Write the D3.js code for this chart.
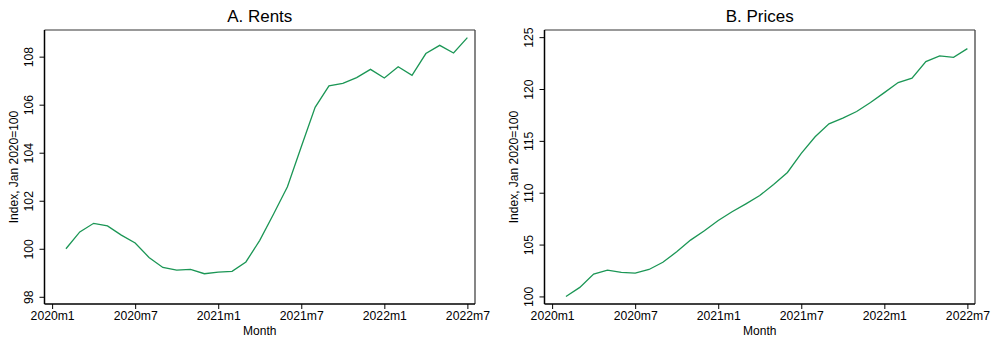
<!DOCTYPE html>
<html>
<head>
<meta charset="utf-8">
<script src="https://cdn.jsdelivr.net/npm/d3@7"></script>
<style>
  body { margin: 0; background: #fff; }
  svg text { font-family: "Liberation Sans", Arial, sans-serif; fill: #000; }
</style>
</head>
<body>
<svg id="chart" width="991" height="338"></svg>
<script>
// months plotted, 2020m2 .. 2022m7
const months = [
  "2020m2","2020m3","2020m4","2020m5","2020m6","2020m7","2020m8","2020m9","2020m10","2020m11","2020m12",
  "2021m1","2021m2","2021m3","2021m4","2021m5","2021m6","2021m7","2021m8","2021m9","2021m10","2021m11","2021m12",
  "2022m1","2022m2","2022m3","2022m4","2022m5","2022m6","2022m7"
];
const rents = [
  100.0, 100.7, 101.06, 100.95, 100.57, 100.24, 99.64, 99.22, 99.11, 99.14, 98.96,
  99.03, 99.06, 99.45, 100.35, 101.45, 102.58, 104.25, 105.89, 106.78, 106.89, 107.13, 107.47,
  107.11, 107.58, 107.22, 108.13, 108.47, 108.15, 108.79
];
const prices = [
  100.0, 100.87, 102.15, 102.54, 102.31, 102.25, 102.6, 103.3, 104.3, 105.43, 106.33,
  107.32, 108.16, 108.93, 109.73, 110.8, 111.95, 113.8, 115.4, 116.64, 117.19, 117.83, 118.7,
  119.65, 120.62, 121.04, 122.64, 123.19, 123.06, 123.89
];
const xTickLabels = ["2020m1", "2020m7", "2021m1", "2021m7", "2022m1", "2022m7"];
const rentTicks = [98, 100, 102, 104, 106, 108];
const priceTicks = [100, 105, 110, 115, 120, 125];

// month number counted from 2020m1 = 0
const monthIndex = m => {
  const [y, mm] = m.split("m").map(Number);
  return (y - 2020) * 12 + mm - 1;
};

const svg = d3.select("#chart");
const lineColor = "#1b9655";

function panel(opts) {
  const { left, right, top, bottom, title, values, yDomain, yTicks } = opts;
  const g = svg.append("g");

  const x = d3.scaleLinear().domain([-0.55, 30.55]).range([left, right]);
  const y = d3.scaleLinear().domain(yDomain).range([bottom, top]);

  // frame: top and right lighter
  g.append("line").attr("x1", left).attr("x2", right).attr("y1", top).attr("y2", top)
    .attr("stroke", "#777").attr("stroke-width", 1.3);
  g.append("line").attr("x1", right).attr("x2", right).attr("y1", top).attr("y2", bottom)
    .attr("stroke", "#444").attr("stroke-width", 1.3);

  // x axis
  const xAxis = d3.axisBottom(x)
    .tickValues(xTickLabels.map(monthIndex))
    .tickFormat((d, i) => xTickLabels[i])
    .tickSize(5).tickPadding(2).tickSizeOuter(0);
  const xg = g.append("g").attr("transform", `translate(0,${bottom})`).call(xAxis);
  xg.select(".domain").attr("stroke", "#000").attr("stroke-width", 1.5)
    .attr("d", `M${left},0H${right}`);
  xg.selectAll(".tick line").attr("stroke", "#000");
  xg.selectAll("text").style("font-size", "12.2px").attr("fill", "#000");

  // y axis, rotated labels
  const yAxis = d3.axisLeft(y).tickValues(yTicks).tickSize(5).tickPadding(3).tickSizeOuter(0);
  const yg = g.append("g").attr("transform", `translate(${left},0)`).call(yAxis);
  yg.select(".domain").attr("stroke", "#000").attr("stroke-width", 1.5)
    .attr("d", `M0,${top}V${bottom}`);
  yg.selectAll(".tick line").attr("stroke", "#000");
  yg.selectAll("text")
    .style("font-size", "12.2px").attr("fill", "#000")
    .attr("x", null).attr("dy", null)
    .attr("text-anchor", "middle")
    .attr("transform", "translate(-12,0) rotate(-90)");

  // title
  g.append("text")
    .attr("x", (left + right) / 2).attr("y", 22)
    .attr("text-anchor", "middle")
    .style("font-size", "17px")
    .text(title);

  // axis titles
  g.append("text")
    .attr("transform", `translate(${left - 27},${(top + bottom) / 2}) rotate(-90)`)
    .attr("text-anchor", "middle")
    .style("font-size", "12px")
    .text("Index, Jan 2020=100");
  g.append("text")
    .attr("x", (left + right) / 2).attr("y", 334.5)
    .attr("text-anchor", "middle")
    .style("font-size", "12px")
    .text("Month");

  // series
  const line = d3.line()
    .x((d, i) => x(monthIndex(months[i])))
    .y(d => y(d));
  g.append("path")
    .datum(values)
    .attr("d", line)
    .attr("fill", "none")
    .attr("stroke", lineColor)
    .attr("stroke-width", 1.3);
}

panel({
  left: 44.5, right: 475, top: 30, bottom: 304,
  title: "A. Rents", values: rents,
  yDomain: [97.70, 109.11], yTicks: rentTicks
});
panel({
  left: 544.5, right: 975, top: 30, bottom: 304,
  title: "B. Prices", values: prices,
  yDomain: [99.27, 125.69], yTicks: priceTicks
});
</script>
</body>
</html>
